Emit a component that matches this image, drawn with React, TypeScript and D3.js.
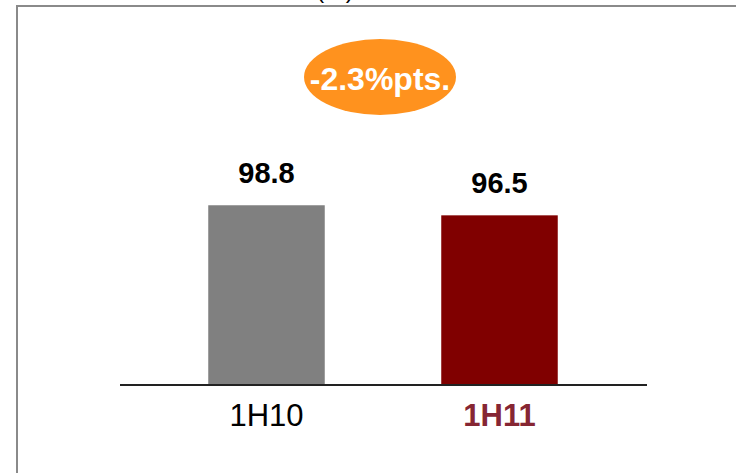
import React from "react";
import * as d3 from "d3";

const categories = ["1H10", "1H11"];
const values = [98.8, 96.5];
const valueLabels = ["98.8", "96.5"];
const barColors = ["#808080", "#800000"];
const labelColors = ["#000000", "#862633"];
const labelWeights = ["normal", "bold"];
const changeLabel = "-2.3%pts.";
const unitLabel = "(%)";

const W = 736;
const H = 473;
const FONT = "'Liberation Sans', Arial, Helvetica, sans-serif";

export default function App() {
  const x = d3
    .scaleBand<string>()
    .domain(categories)
    .range([150, 616])
    .paddingInner(0.5)
    .paddingOuter(0.25);
  const y = d3.scaleLinear().domain([58, 100]).range([384, 200]);
  const baseY = y(58);

  return (
    <svg
      width={W}
      height={H}
      style={{ position: "absolute", left: 0, top: 0, background: "#fff" }}
    >
      {/* frame */}
      <line x1={16} y1={6} x2={736} y2={6} stroke="#8a8a8a" strokeWidth={2} />
      <line x1={17} y1={5} x2={17} y2={473} stroke="#8a8a8a" strokeWidth={2} />

      {/* unit label, cut off at the top as in the original */}
      <text
        x={335}
        y={-2}
        textAnchor="middle"
        fontFamily={FONT}
        fontSize={24}
        fill="#000"
      >
        {unitLabel}
      </text>

      {/* change bubble */}
      <ellipse cx={380} cy={77} rx={76} ry={38} fill="#FF921E" />
      <text
        x={380}
        y={90}
        textAnchor="middle"
        fontFamily={FONT}
        fontSize={32}
        fontWeight="bold"
        fill="#fff"
      >
        {changeLabel}
      </text>

      {/* bars */}
      {categories.map((c, i) => (
        <g key={c}>
          <rect
            x={x(c)}
            y={y(values[i])}
            width={x.bandwidth()}
            height={baseY - y(values[i])}
            fill={barColors[i]}
          />
          <text
            x={(x(c) as number) + x.bandwidth() / 2}
            y={y(values[i]) - 22}
            textAnchor="middle"
            fontFamily={FONT}
            fontSize={29}
            fontWeight="bold"
            fill="#000"
          >
            {valueLabels[i]}
          </text>
          <text
            x={(x(c) as number) + x.bandwidth() / 2}
            y={426}
            textAnchor="middle"
            fontFamily={FONT}
            fontSize={31}
            fontWeight={labelWeights[i]}
            fill={labelColors[i]}
          >
            {c}
          </text>
        </g>
      ))}

      {/* axis line */}
      <line x1={120} y1={385} x2={647} y2={385} stroke="#222" strokeWidth={2} />
    </svg>
  );
}
